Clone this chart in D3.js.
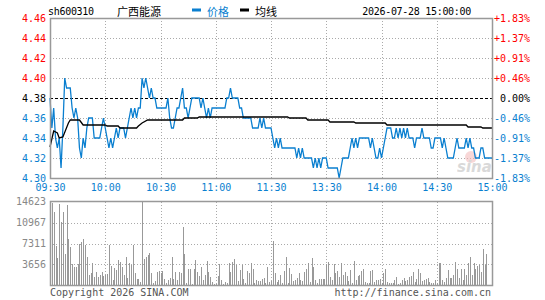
<!DOCTYPE html>
<html><head><meta charset="utf-8">
<script src="https://cdn.jsdelivr.net/npm/d3@7"></script>
<style>
body{margin:0;background:#fff}
svg text{font-family:"DejaVu Sans Mono",monospace;font-size:10px}
</style></head><body><div id="chart"></div>
<script>
// quote header
var code = "sh600310", stockName = "广西能源", stamp = "2026-07-28 15:00:00";
var preClose = 4.38;

// axis labels
var timeIdx    = [0, 30, 60, 90, 120, 150, 180, 210, 240];
var timeLabels = ["09:30","10:00","10:30","11:00","11:30","13:30","14:00","14:30","15:00"];
var priceTicks = [4.46, 4.44, 4.42, 4.40, 4.38, 4.36, 4.34, 4.32, 4.30];
var volTicks   = [14623, 10967, 7311, 3656];

// one price per minute, 09:30-11:30 then 13:01-15:00
var prices = [
 4.38,4.35,4.37,4.34,4.33,4.34,4.31,4.35,4.40,4.39,
 4.39,4.39,4.37,4.36,4.37,4.36,4.33,4.32,4.34,4.33,
 4.35,4.36,4.36,4.36,4.34,4.34,4.34,4.34,4.35,4.36,
 4.35,4.34,4.33,4.34,4.33,4.34,4.35,4.34,4.35,4.35,
 4.35,4.34,4.35,4.36,4.37,4.36,4.37,4.36,4.37,4.37,
 4.40,4.39,4.40,4.39,4.38,4.39,4.38,4.38,4.37,4.37,
 4.37,4.37,4.37,4.37,4.38,4.36,4.35,4.35,4.36,4.37,
 4.37,4.38,4.39,4.37,4.37,4.36,4.37,4.38,4.38,4.38,
 4.38,4.38,4.37,4.38,4.37,4.36,4.37,4.36,4.37,4.37,
 4.37,4.37,4.37,4.37,4.37,4.37,4.38,4.38,4.39,4.38,
 4.38,4.38,4.38,4.37,4.37,4.36,4.36,4.36,4.36,4.36,
 4.35,4.35,4.35,4.35,4.36,4.35,4.36,4.35,4.35,4.35,
 4.35,
 4.34,4.33,4.34,4.33,4.34,4.33,4.33,4.33,4.33,4.33,
 4.33,4.33,4.33,4.32,4.33,4.32,4.33,4.32,4.32,4.32,
 4.32,4.32,4.31,4.32,4.31,4.32,4.31,4.32,4.32,4.32,
 4.31,4.31,4.31,4.31,4.31,4.31,4.30,4.31,4.32,4.32,
 4.32,4.32,4.33,4.34,4.33,4.34,4.33,4.34,4.34,4.34,
 4.34,4.34,4.34,4.33,4.34,4.33,4.32,4.32,4.33,4.32,
 4.33,4.34,4.35,4.35,4.35,4.34,4.34,4.35,4.34,4.35,
 4.34,4.35,4.34,4.35,4.34,4.34,4.34,4.33,4.34,4.34,
 4.34,4.35,4.34,4.34,4.34,4.34,4.33,4.33,4.34,4.34,
 4.34,4.34,4.33,4.34,4.33,4.32,4.32,4.32,4.32,4.33,
 4.34,4.33,4.33,4.33,4.33,4.34,4.33,4.34,4.33,4.33,
 4.32,4.32,4.32,4.33,4.33,4.32,4.32,4.32,4.32,4.32
];

// minute volume (shares)
var volumes = [
 4250,14330,12800,6900,4800,14200,11000,12800,5400,14000,
 8100,6700,3700,3300,3300,3700,7300,7600,8100,7000,
 4900,1900,2100,4000,1500,2300,1400,1800,2300,1700,
 1900,2000,7100,3400,1000,3000,2700,4400,4100,3200,
 1800,5000,1300,4000,3600,7000,2100,1100,1100,600,
 14623,4700,4900,5300,5700,2100,500,800,2300,2600,
 2100,2600,1200,500,1000,1300,5000,1200,2300,900,
 2300,2100,10200,5500,500,2800,2800,300,2800,4500,
 2400,1600,3200,900,1800,4200,2400,1500,600,300,
 300,1700,3700,900,300,600,500,4000,2300,4100,
 4700,3500,700,2700,3500,1100,500,2600,2200,3900,
 2800,400,900,800,800,1100,1300,400,3200,600,
 800,
 7700,2200,600,900,1900,500,2600,5000,400,3000,
 2000,800,900,1300,2200,1000,700,2300,2800,3900,
 600,4800,3200,1000,500,1200,1100,1100,1200,3700,
 4100,1400,900,3700,2100,2600,1400,4000,1900,2300,
 1600,700,2700,400,4300,900,1600,1900,2600,2900,
 600,500,400,2500,2700,600,1000,900,1200,500,
 2100,2800,600,500,500,500,900,1400,300,500,
 900,1300,700,900,1400,1600,2400,600,1100,2800,
 2200,700,900,1200,1300,600,400,500,1000,500,
 4000,3900,1000,600,1300,2700,1300,1300,1800,4100,
 2900,1300,2900,1000,2900,1800,3900,4900,1800,3900,
 2900,3400,3500,2400,6300,3600,5500,0,0,0
];

// average price line, read as [minute, price] turning points
var avgPts = [
 [0,4.331],[2,4.347],[4,4.345],[5,4.340],[7,4.341],[10,4.355],[11,4.358],
 [16,4.358],[18,4.353],[30,4.353],[31,4.352],[37,4.352],[38,4.350],[47,4.350],
 [48,4.352],[50,4.355],[53,4.358],[72,4.358],[73,4.360],[80,4.360],[81,4.361],
 [129,4.361],[130,4.360],[139,4.360],[140,4.358],[151,4.358],[152,4.356],
 [165,4.356],[166,4.355],[182,4.355],[183,4.353],[226,4.353],[227,4.351],
 [234,4.351],[235,4.350],[240,4.350]
];

var blue = "#0a7fd0", red = "#ff0000", gray = "#999";
var W = 545, H = 300;
var left = 50, right = 492, pTop = 18, pBot = 178, vTop = 201.5, vBot = 285.5;

var svg = d3.select("#chart").append("svg").attr("width", W).attr("height", H);

var x = d3.scaleLinear().domain([0, 240]).range([left, right]);
var y = d3.scaleLinear().domain([4.30, 4.46]).range([pBot, pTop]);
var yv = d3.scaleLinear().domain([0, 14623]).range([vBot, vTop]);

function cx(v){ return Math.round(v) + 0.5; }
function lblColor(d){ return d > preClose + 1e-9 ? red : (d < preClose - 1e-9 ? blue : "#000"); }

// ---- grids
var grid = svg.append("g").attr("stroke", "#aaa").attr("stroke-dasharray", "1,2").attr("shape-rendering", "crispEdges");
grid.selectAll(".hp").data(priceTicks.filter(function(d){ return d < 4.459 && d > 4.301 && Math.abs(d - preClose) > 1e-9; }))
  .enter().append("line")
  .attr("x1", left).attr("x2", right)
  .attr("y1", function(d){ return cx(y(d)); }).attr("y2", function(d){ return cx(y(d)); });
grid.selectAll(".hv").data(volTicks.slice(1)).enter().append("line")
  .attr("x1", left).attr("x2", right)
  .attr("y1", function(d){ return cx(yv(d)); }).attr("y2", function(d){ return cx(yv(d)); });
var inner = timeIdx.slice(1, -1);
grid.selectAll(".vp").data(inner).enter().append("line")
  .attr("x1", function(d){ return cx(x(d)); }).attr("x2", function(d){ return cx(x(d)); })
  .attr("y1", pTop).attr("y2", pBot);
grid.selectAll(".vv").data(inner).enter().append("line")
  .attr("x1", function(d){ return cx(x(d)); }).attr("x2", function(d){ return cx(x(d)); })
  .attr("y1", vTop).attr("y2", vBot);

// previous close
svg.append("line").attr("x1", left).attr("x2", right)
  .attr("y1", cx(y(preClose))).attr("y2", cx(y(preClose)))
  .attr("stroke", "#000").attr("stroke-dasharray", "3,2").attr("shape-rendering", "crispEdges");

// ---- sina watermark
var wm = svg.append("g").attr("opacity", 0.55);
wm.append("circle").attr("cx", 471).attr("cy", 157).attr("r", 6).attr("fill", "#f4b8b8");
wm.append("text").attr("x", 457).attr("y", 172).text("sina")
  .style("font-family", "'DejaVu Sans'").style("font-size", "15px")
  .style("font-weight", "bold").style("font-style", "italic").attr("fill", "#bbb");

// ---- volume bars
svg.append("g").selectAll("line").data(volumes).enter().append("line")
  .filter(function(d){ return d > 0; })
  .attr("x1", function(d, i){ return cx(x(i)); }).attr("x2", function(d, i){ return cx(x(i)); })
  .attr("y1", vBot).attr("y2", function(d){ return yv(d); })
  .attr("stroke", gray).attr("shape-rendering", "crispEdges");

// ---- price + average lines
var line = d3.line().x(function(d, i){ return x(i); }).y(function(d){ return y(d); });
svg.append("path").datum(prices).attr("d", line)
  .attr("fill", "none").attr("stroke", blue).attr("stroke-width", 1.3);
var avgLine = d3.line().x(function(d){ return x(d[0]); }).y(function(d){ return y(d[1]); });
svg.append("path").datum(avgPts).attr("d", avgLine)
  .attr("fill", "none").attr("stroke", "#000").attr("stroke-width", 1.3);

// ---- frames
svg.append("rect").attr("x", left + 0.5).attr("y", pTop + 0.5).attr("width", right - left).attr("height", pBot - pTop)
  .attr("fill", "none").attr("stroke", gray).attr("stroke-width", 1.5);
svg.append("rect").attr("x", left + 0.5).attr("y", vTop).attr("width", right - left).attr("height", vBot - vTop)
  .attr("fill", "none").attr("stroke", gray).attr("stroke-width", 1.5);

// ---- axes
var yl = svg.append("g").attr("transform", "translate(" + left + ",0)")
  .call(d3.axisLeft(y).tickValues(priceTicks).tickSize(0).tickPadding(4).tickFormat(d3.format(".2f")));
yl.select(".domain").remove();
yl.selectAll("text").attr("fill", lblColor).style("font-size", "10px").style("font-family", "'DejaVu Sans Mono'");

var yr = svg.append("g").attr("transform", "translate(" + right + ",0)")
  .call(d3.axisRight(y).tickValues(priceTicks).tickSize(0).tickPadding(2).tickFormat(function(d){
    var p = (d - preClose) / preClose * 100;
    if (Math.abs(p) < 1e-9) return "\u00a00.00%";
    return (p > 0 ? "+" : "-") + Math.abs(p).toFixed(2) + "%";
  }));
yr.select(".domain").remove();
yr.selectAll("text").attr("fill", lblColor).style("font-size", "10px").style("font-family", "'DejaVu Sans Mono'");

var xb = svg.append("g").attr("transform", "translate(0," + pBot + ")")
  .call(d3.axisBottom(x).tickValues(timeIdx).tickSize(0).tickPadding(6).tickFormat(function(d, i){ return timeLabels[i]; }));
xb.select(".domain").remove();
xb.selectAll("text").attr("fill", blue).style("font-size", "10px").style("font-family", "'DejaVu Sans Mono'");

var yvl = svg.append("g").attr("transform", "translate(" + left + ",0)")
  .call(d3.axisLeft(yv).tickValues(volTicks).tickSize(0).tickPadding(4).tickFormat(d3.format("d")));
yvl.select(".domain").remove();
yvl.selectAll("text").attr("fill", "#888").style("font-size", "10px").style("font-family", "'DejaVu Sans Mono'");

// ---- header
var head = svg.append("g").attr("font-size", "10px");
head.append("text").attr("x", 48).attr("y", 15).text(code).attr("fill", "#000").style("letter-spacing", "-0.3px");
head.append("text").attr("x", 117).attr("y", 15.5).text(stockName)
  .style("font-family", "'Noto Sans CJK SC'").style("font-size", "11px");
head.append("rect").attr("x", 192).attr("y", 8.5).attr("width", 9).attr("height", 3).attr("fill", blue);
head.append("text").attr("x", 207).attr("y", 15.5).text("价格").attr("fill", blue)
  .style("font-family", "'Noto Sans CJK SC'").style("font-size", "11px");
head.append("rect").attr("x", 240).attr("y", 8.5).attr("width", 9).attr("height", 3).attr("fill", "#000");
head.append("text").attr("x", 255).attr("y", 15.5).text("均线")
  .style("font-family", "'Noto Sans CJK SC'").style("font-size", "11px");
head.append("text").attr("x", 471).attr("y", 15).attr("text-anchor", "end").text(stamp).style("letter-spacing", "-0.3px");

// ---- footer
svg.append("text").attr("x", 50).attr("y", 296).text("Copyright 2026 SINA.COM").attr("fill", "#555");
svg.append("text").attr("x", 491).attr("y", 296).attr("text-anchor", "end").text("http://finance.sina.com.cn").attr("fill", "#555");
</script></body></html>
